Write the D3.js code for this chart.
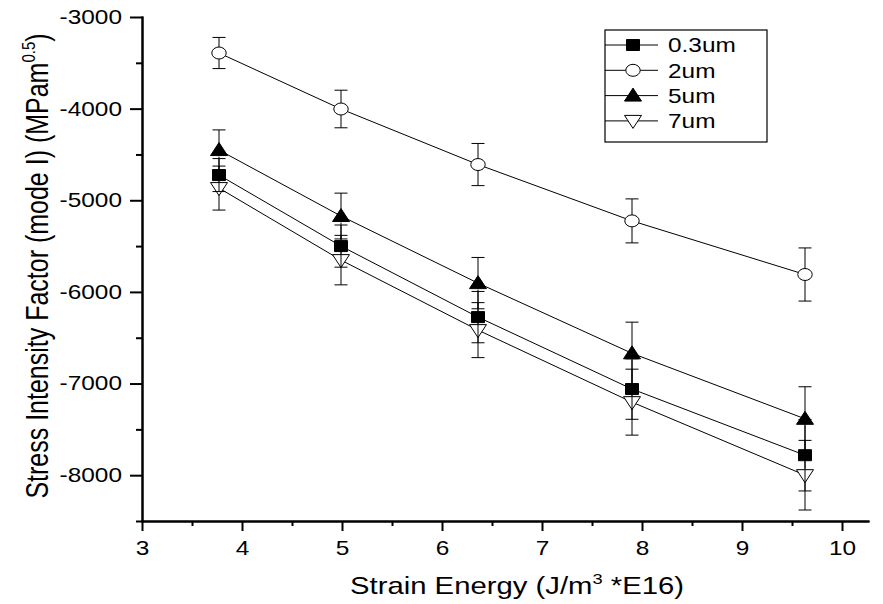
<!DOCTYPE html>
<html>
<head>
<meta charset="utf-8">
<script src="https://cdn.jsdelivr.net/npm/d3@7"></script>
<style>
  body { margin: 0; background: #fff; }
  text { font-family: "Liberation Sans", Arial, sans-serif; fill: #000; }
  .axis path, .axis line { stroke: #000; stroke-width: 2px; }
</style>
</head>
<body>
<div id="chart"></div>
<script>
// strain energy values (x) and the four particle sizes
var xValues = [3.77, 4.99, 6.36, 7.9, 9.63];
var seriesNames = ["0.3um", "2um", "5um", "7um"];
var seriesShapes = ["square", "circle", "triangle", "invtriangle"];

// stress intensity factor, mode I, with the error bar half-lengths
var kic03 = [-4725, -5500, -6275, -7060, -7782];
var err03 = [180, 230, 280, 330, 390];
var kic2 = [-3393, -4004, -4610, -5225, -5810];
var err2 = [170, 205, 230, 240, 290];
var kic5 = [-4452, -5172, -5904, -6670, -7385];
var err5 = [220, 250, 280, 340, 350];
var kic7 = [-4867, -5653, -6417, -7203, -8000];
var err7 = [240, 270, 300, 360, 380];

// tick values
var xMajor = [3, 4, 5, 6, 7, 8, 9, 10];
var xMinor = [3.5, 4.5, 5.5, 6.5, 7.5, 8.5, 9.5];
var yMajor = [-8000, -7000, -6000, -5000, -4000, -3000];
var yMinor = [-8500, -7500, -6500, -5500, -4500, -3500];

var width = 883;
var height = 604;
var stretch = 1.22; // the picture is a bit wider than it is tall

var xScale = d3.scaleLinear().domain([3, 10.26]).range([142, 868]);
var yScale = d3.scaleLinear().domain([-8500, -3000]).range([521, 17]);

var svg = d3.select("#chart").append("svg")
            .attr("width", width)
            .attr("height", height);

/*
// Returns the path of a square or triangle marker centered on cx, cy
*/
function MarkerPath(shape, cx, cy)
{
  var p = d3.path();
  if(shape == "square")
  {
    p.rect(cx - 6.5, cy - 5.5, 13, 11);
  }
  else if(shape == "triangle")
  {
    p.moveTo(cx, cy - 7.5);
    p.lineTo(cx + 8.5, cy + 5.5);
    p.lineTo(cx - 8.5, cy + 5.5);
    p.closePath();
  }
  else
  {
    p.moveTo(cx, cy + 7.5);
    p.lineTo(cx + 8.5, cy - 5.5);
    p.lineTo(cx - 8.5, cy - 5.5);
    p.closePath();
  }
  return p.toString();
}

/*
// Draws one marker; the circle is an ellipse element since d3.path has none
*/
function DrawMarker(g, shape, cx, cy)
{
  if(shape == "circle")
  {
    g.append("ellipse")
     .attr("cx", cx).attr("cy", cy)
     .attr("rx", 7.2).attr("ry", 6)
     .attr("fill", "#fff")
     .attr("stroke", "#000")
     .attr("stroke-width", 1);
  }
  else
  {
    var filled = (shape == "square" || shape == "triangle");
    g.append("path")
     .attr("d", MarkerPath(shape, cx, cy))
     .attr("fill", filled ? "#000" : "#fff")
     .attr("stroke", "#000")
     .attr("stroke-width", 1);
  }
}

// half height of each marker, the error bars start from its edge
var markerHalf = {"square": 5.5, "circle": 6, "triangle": 6.5, "invtriangle": 6.5};

var series = [
  {name: seriesNames[0], shape: seriesShapes[0], y: kic03, err: err03},
  {name: seriesNames[1], shape: seriesShapes[1], y: kic2, err: err2},
  {name: seriesNames[2], shape: seriesShapes[2], y: kic5, err: err5},
  {name: seriesNames[3], shape: seriesShapes[3], y: kic7, err: err7}
];

// axes
var yAxis = d3.axisLeft(yScale).tickValues(yMajor).tickSize(12).tickSizeOuter(0)
              .tickFormat(function(d) {return d3.format("d")(d).replace("\u2212", "-");});
var yAxisMinor = d3.axisLeft(yScale).tickValues(yMinor).tickSize(6).tickSizeOuter(0).tickFormat("");
var xAxis = d3.axisBottom(xScale).tickValues(xMajor).tickSize(10).tickSizeOuter(0).tickFormat(d3.format("d"));
var xAxisMinor = d3.axisBottom(xScale).tickValues(xMinor).tickSize(5).tickSizeOuter(0).tickFormat("");

svg.append("g").classed("axis", true).attr("transform", "translate(142,0)").call(yAxisMinor);
var gy = svg.append("g").classed("axis", true).attr("transform", "translate(142,0)").call(yAxis);
svg.append("g").classed("axis", true).attr("transform", "translate(0,521)").call(xAxisMinor);
var gx = svg.append("g").classed("axis", true).attr("transform", "translate(0,521)").call(xAxis);

gy.selectAll("text")
  .attr("x", 0)
  .attr("transform", "translate(-20,0) scale(" + stretch + ",1)")
  .style("font-size", "20px")
  .style("font-family", "'Liberation Sans', Arial, sans-serif");

gx.selectAll("text")
  .attr("y", 0)
  .attr("transform", "translate(0,20) scale(" + stretch + ",1)")
  .style("font-size", "20px")
  .style("font-family", "'Liberation Sans', Arial, sans-serif");

svg.selectAll(".axis .domain").attr("stroke-linecap", "square");

// connecting lines
var line = d3.line()
             .x(function(d, i) {return xScale(xValues[i]);})
             .y(function(d) {return yScale(d);});

var plot = svg.append("g");

series.forEach(function(s)
{
  plot.append("path")
      .attr("d", line(s.y))
      .attr("fill", "none")
      .attr("stroke", "#000")
      .attr("stroke-width", 1);
});

// markers
series.forEach(function(s)
{
  s.y.forEach(function(v, i)
  {
    DrawMarker(plot, s.shape, xScale(xValues[i]), yScale(v));
  });
});

// error bars, drawn from the marker edge out to the cap
series.forEach(function(s)
{
  s.y.forEach(function(v, i)
  {
    var cx = xScale(xValues[i]);
    var cy = yScale(v);
    var top = yScale(v + s.err[i]);
    var bot = yScale(v - s.err[i]);
    var half = markerHalf[s.shape];
    [[top, cy - half], [bot, cy + half]].forEach(function(seg)
    {
      if(Math.abs(seg[0] - cy) > half)
      {
        plot.append("line")
            .attr("x1", cx).attr("x2", cx)
            .attr("y1", seg[0]).attr("y2", seg[1])
            .attr("stroke", "#000").attr("stroke-width", 1);
      }
      plot.append("line")
          .attr("x1", cx - 6.5).attr("x2", cx + 6.5)
          .attr("y1", seg[0]).attr("y2", seg[0])
          .attr("stroke", "#000").attr("stroke-width", 1);
    });
  });
});

// axis titles
var xTitle = svg.append("text")
                .attr("transform", "translate(517,594) scale(" + stretch + ",1)")
                .attr("text-anchor", "middle")
                .style("font-size", "24px");
xTitle.append("tspan").text("Strain Energy (J/m");
xTitle.append("tspan").attr("dy", "-10").style("font-size", "15px").text("3");
xTitle.append("tspan").attr("dy", "10").text(" *E16)");

var yTitle = svg.append("text")
                .attr("transform", "translate(48,266) scale(" + stretch + ",1) rotate(-90)")
                .attr("text-anchor", "middle")
                .style("font-size", "25px");
yTitle.append("tspan").text("Stress Intensity Factor (mode I) (MPam");
yTitle.append("tspan").attr("dy", "-11").style("font-size", "15px").text("0.5");
yTitle.append("tspan").attr("dy", "11").text(")");

// legend
var legend = svg.append("g");
legend.append("rect")
      .attr("x", 605).attr("y", 30)
      .attr("width", 162).attr("height", 112)
      .attr("fill", "#fff")
      .attr("stroke", "#000")
      .attr("stroke-width", 1.2);

series.forEach(function(s, i)
{
  var ly = 45 + i * 25.3;
  legend.append("line")
        .attr("x1", 605).attr("x2", 658)
        .attr("y1", ly).attr("y2", ly)
        .attr("stroke", "#000").attr("stroke-width", 1);
  DrawMarker(legend, s.shape, 633, ly);
  legend.append("text")
        .attr("transform", "translate(668," + ly + ") scale(" + stretch + ",1)")
        .attr("dy", "0.36em")
        .style("font-size", "20px")
        .text(s.name);
});
</script>
</body>
</html>
